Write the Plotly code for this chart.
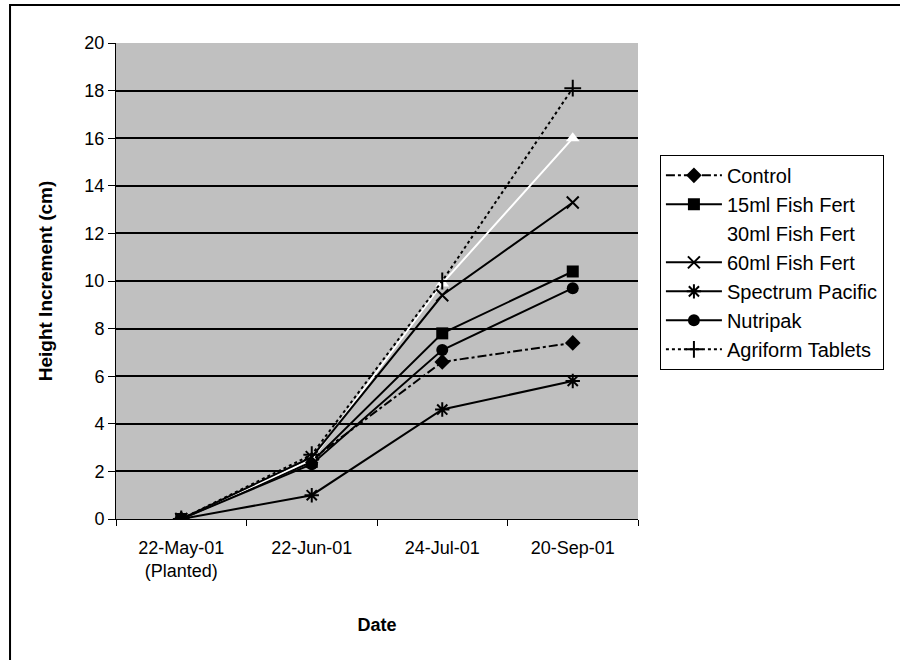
import plotly.graph_objects as go

dates = ["22-May-01<br>(Planted)", "22-Jun-01", "24-Jul-01", "20-Sep-01"]

control = [0, 2.5, 6.6, 7.4]
fish15 = [0, 2.4, 7.8, 10.4]
fish30 = [0, 2.5, 9.9, 16.0]
fish60 = [0, 2.6, 9.4, 13.3]
spectrum = [0, 1.0, 4.6, 5.8]
nutripak = [0, 2.3, 7.1, 9.7]
agriform = [0, 2.7, 10.0, 18.1]

series = [
    ("Control", control, "black", "dashdot", "diamond"),
    ("15ml Fish Fert", fish15, "black", "solid", "square"),
    ("30ml Fish Fert", fish30, "white", "solid", "triangle-up"),
    ("60ml Fish Fert", fish60, "black", "solid", "x-thin"),
    ("Spectrum Pacific", spectrum, "black", "solid", "asterisk"),
    ("Nutripak", nutripak, "black", "solid", "circle"),
    ("Agriform Tablets", agriform, "black", "dot", "cross-thin"),
]

fig = go.Figure()
for i, (name, vals, col, dash, sym) in enumerate(series):
    thin = sym in ("x-thin", "asterisk", "cross-thin")
    fig.add_trace(go.Scatter(
        x=dates, y=vals, name=name, mode="lines+markers",
        legendgroup=str(i),
        line=dict(color=col, width=2, dash=dash),
        marker=dict(symbol=sym, size=12, color=col,
                    line=dict(color=col, width=2 if thin else 0)),
    ))

fig.update_layout(
    width=900, height=660,
    margin=dict(l=116, r=262, t=43, b=141, autoexpand=False),
    paper_bgcolor="white",
    plot_bgcolor="#c0c0c0",
    font=dict(family="Arial, Liberation Sans, sans-serif", size=18, color="black"),
    showlegend=True,
    legend=dict(
        x=1.042, y=0.765, xanchor="left", yanchor="top",
        bgcolor="white", bordercolor="black", borderwidth=1,
        font=dict(size=20), tracegroupgap=6, itemwidth=56,
        traceorder="normal",
    ),
    xaxis=dict(
        type="category", range=[-0.5, 3.5],
        title=dict(text="<b>Date</b>", font=dict(size=18), standoff=38),
        showgrid=False, showline=True, linecolor="black", linewidth=1,
        ticks="outside", ticklen=6, tickcolor="black", tickson="boundaries",
        ticklabelstandoff=12, automargin=False,
        mirror=False,
    ),
    yaxis=dict(
        title=dict(text="<b>Height Increment (cm)</b>", font=dict(size=19), standoff=26),
        range=[0, 20], dtick=2, tick0=0,
        showgrid=True, gridcolor="black", gridwidth=2,
        showline=True, linecolor="black", linewidth=1,
        ticks="outside", ticklen=7, tickcolor="black",
        zeroline=False, automargin=False,
    ),
    shapes=[dict(type="rect", xref="paper", yref="paper",
                 x0=-0.203, x1=1.7, y0=-0.5, y1=1.080,
                 line=dict(color="black", width=2), fillcolor="rgba(0,0,0,0)",
                 layer="below")],
)

fig.write_html("out.html", config={"displayModeBar": False},
               post_script="document.body.style.margin='0';")
